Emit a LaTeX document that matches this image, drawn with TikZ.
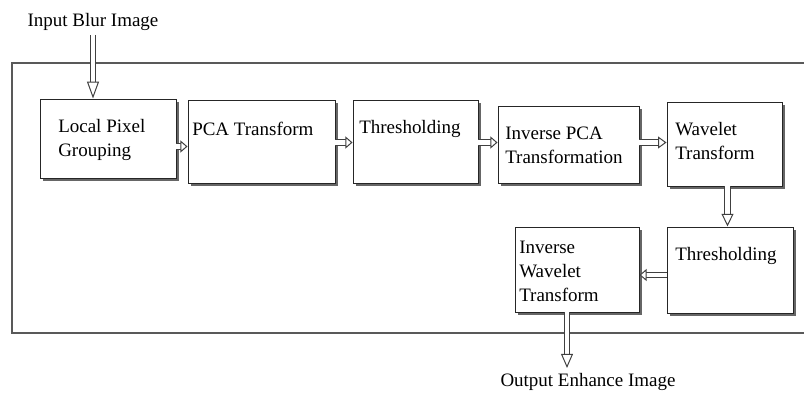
\documentclass[tikz,border=0pt]{standalone}
\usepackage{fontspec}
\setmainfont{Liberation Serif}
\usetikzlibrary{arrows.meta,shadows,decorations.markings}
\def\pxl{0.025cm}
\tikzset{
	blk/.style={draw=black!85, line width=0.7pt, fill=white, inner sep=0pt,
		drop shadow={shadow xshift=2pt, shadow yshift=-2pt, fill=black!60, opacity=1}},
	txt/.style={font=\fontsize{13.5}{17}\selectfont, inner sep=0pt, anchor=north west, align=left},
	flow/.style={draw=white, line width=3.4pt, shorten >=#1*0.6,
		preaction={draw=black!75, line width=4.8pt, shorten >=#1*0.6},
		decoration={markings, mark=at position 1 with {\arrow[draw=black!75, line width=0.7pt]{Triangle[fill=white, width=8.5pt, length=#1]}}},
		postaction=decorate},
	flow/.default=5pt
}

\begin{document}
\begin{tikzpicture}[x=\pxl, y=-\pxl]
			%%%%% START %%%%%
			\useasboundingbox (0,0) rectangle (804,394);
			
			\draw[line width=1pt, color=black!65] (805,63) -- (12,63) -- (12,333) -- (805,333);
			
			\node[blk, minimum width=136*\pxl, minimum height=79*\pxl] (lpg) at (108,138.5) {};
			\node[blk, minimum width=147*\pxl, minimum height=83*\pxl] (pca) at (261.5,141.5) {};
			\node[blk, minimum width=125*\pxl, minimum height=83*\pxl] (thra) at (415.5,141.5) {};
			\node[blk, minimum width=141*\pxl, minimum height=77*\pxl] (ipca) at (568.5,144.5) {};
			\node[blk, minimum width=115*\pxl, minimum height=84*\pxl] (wav) at (724.5,144) {};
			\node[blk, minimum width=126*\pxl, minimum height=86*\pxl] (thrb) at (730,270) {};
			\node[blk, minimum width=124*\pxl, minimum height=85*\pxl] (iwt) at (577,269.5) {};
			
			\node[txt] (lpg-t) at (58,119) {Local Pixel\\Grouping};
			\node[txt] (pca-t) at (192,122) {PCA Transform};
			\node[txt] (thra-t) at (359,120) {Thresholding};
			\node[txt] (ipca-t) at (505,127) {Inverse PCA\\Transformation};
			\node[txt] (wav-t) at (675,122) {Wavelet\\Transform};
			\node[txt] (thrb-t) at (675,247) {Thresholding};
			\node[txt] (iwt-t) at (519,241) {Inverse\\Wavelet\\Transform};
			
			\node[txt, anchor=center] (inp) at (93,22) {Input Blur Image};
			\node[txt, anchor=center] (out) at (588,382) {Output Enhance Image};
			\coordinate (outtip) at (567,368);
			
			\draw[flow=12pt] ([yshift=-4*\pxl]inp.south) -- (inp.south |- lpg.north);
			\draw[flow] ([yshift=-8*\pxl]lpg.east) -- ([yshift=-8*\pxl]lpg.east -| pca.west);
			\draw[flow] ([yshift=-1*\pxl]pca.east) -- ([yshift=-1*\pxl]pca.east -| thra.west);
			\draw[flow] ([yshift=-1*\pxl]thra.east) -- ([yshift=-1*\pxl]thra.east -| ipca.west);
			\draw[flow=6pt] ([yshift=2*\pxl]ipca.east) -- ([yshift=2*\pxl]ipca.east -| wav.west);
			\draw[flow=9pt] ([xshift=3*\pxl]wav.south) -- ([xshift=3*\pxl]wav.south |- thrb.north);
			\draw[flow] ([yshift=-5*\pxl]thrb.west) -- ([yshift=-5*\pxl]thrb.west -| iwt.east);
			\draw[flow=10pt] (iwt.south -| outtip) -- (outtip);
			
			%%%%% END %%%%%
\end{tikzpicture}
\end{document}
